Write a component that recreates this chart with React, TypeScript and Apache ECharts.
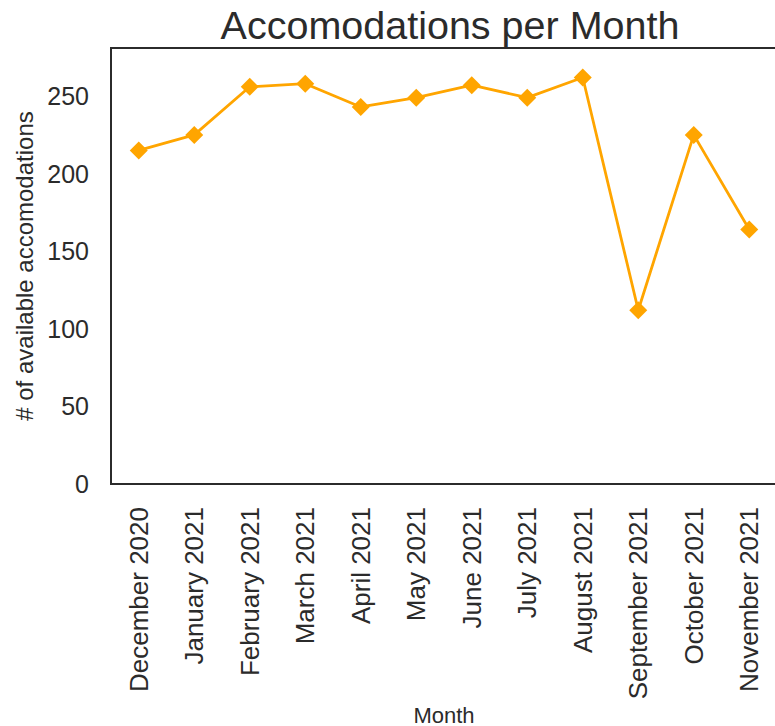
import React, { useEffect, useRef } from "react";
import * as echarts from "echarts";

const months = [
  "December 2020",
  "January 2021",
  "February 2021",
  "March 2021",
  "April 2021",
  "May 2021",
  "June 2021",
  "July 2021",
  "August 2021",
  "September 2021",
  "October 2021",
  "November 2021",
];
const accommodations = [215, 225, 256, 258, 243, 249, 257, 249, 262, 112, 225, 164];
const yTicks = { min: 0, max: 281, interval: 50 };

const TEXT = "#2b2b2b";
const FONT = "'Liberation Sans', Arial, sans-serif";

export default function App() {
  const ref = useRef<HTMLDivElement>(null);
  useEffect(() => {
    if (!ref.current) return;
    const chart = echarts.init(ref.current, undefined, { renderer: "svg" });
    chart.setOption({
      animation: false,
      backgroundColor: "#ffffff",
      title: {
        text: "Accomodations per Month",
        left: 445,
        textAlign: "center",
        top: 0,
        textStyle: { fontFamily: FONT, fontSize: 39.5, fontWeight: "normal", color: TEXT },
      },
      grid: {
        left: 111,
        top: 48,
        width: 666,
        bottom: 242,
        show: true,
        borderColor: TEXT,
        borderWidth: 2,
        containLabel: false,
        outerBoundsMode: "none",
      },
      xAxis: {
        type: "category",
        data: months,
        boundaryGap: true,
        name: "Month",
        nameLocation: "middle",
        nameGap: 220,
        nameMoveOverlap: false,
        nameTextStyle: { fontFamily: FONT, fontSize: 22, color: TEXT },
        axisLine: { show: false },
        axisTick: { show: false },
        axisLabel: {
          rotate: 90,
          margin: 23,
          fontFamily: FONT,
          fontSize: 26,
          color: TEXT,
          interval: 0,
        },
        splitLine: { show: false },
      },
      yAxis: {
        type: "value",
        min: yTicks.min,
        max: yTicks.max,
        interval: yTicks.interval,
        name: "# of available accomodations",
        nameLocation: "middle",
        nameGap: 75,
        nameMoveOverlap: false,
        nameTextStyle: { fontFamily: FONT, fontSize: 24, color: TEXT },
        axisLine: { show: false },
        axisTick: { show: false },
        axisLabel: {
          margin: 22,
          fontFamily: FONT,
          fontSize: 25,
          color: TEXT,
          showMaxLabel: false,
        },
        splitLine: { show: false },
      },
      series: [
        {
          type: "line",
          data: accommodations,
          symbol: "diamond",
          symbolSize: 18,
          itemStyle: { color: "#FFA500" },
          lineStyle: { color: "#FFA500", width: 2.8 },
        },
      ],
    });
    return () => chart.dispose();
  }, []);
  return (
    <div
      ref={ref}
      style={{ position: "absolute", left: 0, top: 0, width: 775, height: 726 }}
    />
  );
}
